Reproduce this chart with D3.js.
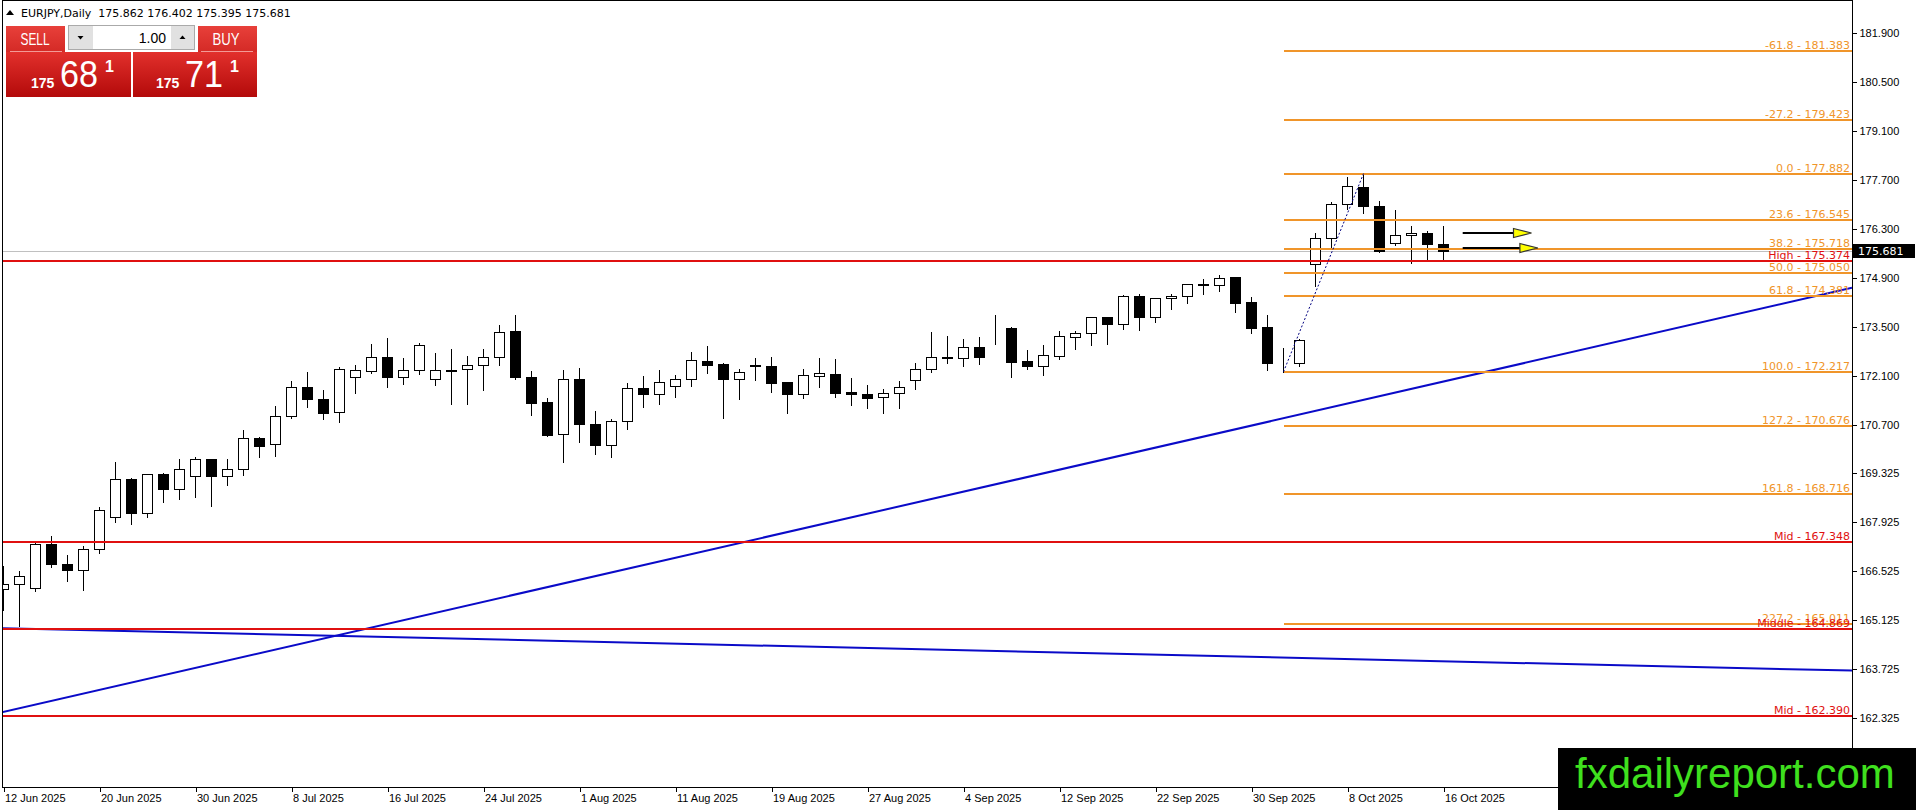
<!DOCTYPE html>
<html lang="en">
<head>
<meta charset="UTF-8">
<title>EURJPY,Daily</title>
<script src="https://cdnjs.cloudflare.com/ajax/libs/d3/7.8.5/d3.min.js"></script>
<style>
  body { margin: 0; background: #fff; }
  svg { display: block; font-family: "DejaVu Sans", sans-serif; }
  .candle, .axis line, .frame { shape-rendering: crispEdges; }
  .axis text { font-size: 11px; fill: #000; }
  .lvl { font-size: 11px; }
</style>
</head>
<body>
<svg width="1916" height="810"></svg>
<script>
// daily bars, weekdays starting from this date
var firstDay = "2025-06-12"
var opens  = [166.01,166.15,166.03,167.29,166.72,166.55,167.15,168.06,169.15,168.18,
              169.29,168.88,169.23,169.72,169.23,169.43,170.32,170.15,170.95,171.78,
              171.43,171.06,172.06,172.25,172.63,172.08,172.26,172.01,172.27,172.29,
              172.41,172.63,173.39,172.08,171.35,170.43,172.01,170.72,170.12,170.81,
              171.75,171.58,171.81,172.01,172.53,172.44,172.02,172.40,172.39,171.93,
              171.57,172.11,172.16,171.63,171.59,171.49,171.61,171.98,172.29,172.62,
              172.62,172.92,173.48,173.46,172.52,172.37,172.68,173.21,173.32,173.78,
              173.58,174.39,173.77,174.33,174.38,174.72,174.69,174.93,174.21,173.49,
              172.46,172.46,175.29,176.03,177.01,177.49,176.96,175.91,176.12,176.18,
              175.862]
var highs  = [166.70,166.56,167.41,167.56,167.01,167.27,168.37,169.67,169.21,169.32,
              169.35,169.76,169.81,169.72,169.76,170.59,170.39,171.27,171.99,172.24,
              171.73,172.39,172.44,173.05,173.22,172.63,173.06,172.78,172.89,172.70,
              172.89,173.59,173.87,172.27,171.49,172.30,172.35,171.13,170.90,171.93,
              172.13,172.30,172.16,172.81,172.99,172.50,172.33,172.64,172.67,171.96,
              172.32,172.64,172.61,172.07,171.86,171.76,171.99,172.50,173.39,173.26,
              173.18,173.23,173.87,173.53,172.86,173.01,173.41,173.41,173.80,173.81,
              174.44,174.46,174.37,174.48,174.76,174.89,175.01,174.96,174.39,173.86,
              172.92,173.19,176.21,177.11,177.81,177.882,177.13,176.86,176.41,176.27,
              176.402]
var lows   = [165.41,164.94,165.94,166.63,166.25,165.97,167.05,167.94,167.86,168.08,
              168.51,168.57,168.65,168.39,168.97,169.26,169.79,169.82,170.91,171.22,
              170.88,170.77,171.62,172.19,171.79,171.88,172.16,171.85,171.30,171.30,
              171.71,172.42,172.02,170.99,170.39,169.65,170.22,169.86,169.78,170.57,
              171.22,171.31,171.51,171.82,172.19,170.91,171.45,171.99,171.65,171.05,
              171.48,171.77,171.51,171.27,171.19,171.05,171.19,171.74,172.22,172.48,
              172.39,172.45,173.02,172.08,172.31,172.14,172.57,172.86,172.97,173.02,
              173.44,173.41,173.65,174.01,174.18,174.44,174.54,173.94,173.34,172.27,
              172.217,172.37,174.67,175.72,176.86,176.75,175.64,175.84,175.32,175.41,
              175.395]
var closes = [166.15,166.39,167.29,166.72,166.56,167.15,168.26,169.15,168.17,169.29,
              168.88,169.43,169.72,169.23,169.43,170.32,170.11,170.95,171.78,171.43,
              171.05,172.29,172.27,172.63,172.08,172.26,172.98,172.26,172.25,172.41,
              172.63,173.35,172.07,171.34,170.41,172.01,170.74,170.14,170.81,171.75,
              171.57,171.92,172.01,172.55,172.42,172.02,172.21,172.39,171.91,171.57,
              172.12,172.18,171.62,171.57,171.48,171.61,171.78,172.30,172.63,172.64,
              172.92,172.65,173.46,172.51,172.37,172.69,173.23,173.32,173.78,173.58,
              174.38,173.77,174.32,174.39,174.72,174.71,174.89,174.19,173.48,172.46,
              172.47,173.12,176.03,177.01,177.52,176.97,175.66,176.12,176.19,175.88,
              175.681]

var dateTicks = ["12 Jun 2025","20 Jun 2025","30 Jun 2025","8 Jul 2025","16 Jul 2025",
                 "24 Jul 2025","1 Aug 2025","11 Aug 2025","19 Aug 2025","27 Aug 2025",
                 "4 Sep 2025","12 Sep 2025","22 Sep 2025","30 Sep 2025","8 Oct 2025","16 Oct 2025"]
var priceTicks = [181.9,180.5,179.1,177.7,176.3,174.9,173.5,172.1,170.7,169.325,167.925,166.525,165.125,163.725,162.325]

// fibonacci drawn from the swing low bar to the swing high bar
var fibLevels = [-61.8,-27.2,0,23.6,38.2,50,61.8,100,127.2,161.8,227.2]
var fibBars   = [80, 85]
var fibPrices = [172.217, 177.882]

var levelNames  = ["High", "Mid", "Middle", "Mid"]
var levelPrices = [175.374, 167.348, 164.869, 162.390]

var trendUp   = [[0, 162.50], [90, 171.94]]
var trendDown = [[0, 164.89], [90, 163.947]]

var arrowStart  = [91.2, 91.2]
var arrowEnd    = [95.5, 95.9]
var arrowPrices = [176.194, 175.766]

var bid = 175.681, ask = 175.711
var header = ["EURJPY,Daily", 175.862, 176.402, 175.395, 175.681]

// ---------------------------------------------------------------
var L = 2, R = 1852, T = 0, B = 787
var svg = d3.select("svg")

var x = d3.scaleLinear().domain([0, 90]).range([3.5, 1443.5])
var y = d3.scaleLinear().domain([162.325, 181.9]).range([718, 33])

var parse = d3.timeParse("%Y-%m-%d"), fmt = d3.timeFormat("%-d %b %Y")
var dates = [], day = parse(firstDay)
while (dates.length < closes.length) {
  if (day.getDay() % 6 !== 0) dates.push(day)
  day = d3.timeDay.offset(day, 1)
}
var bars = closes.map((c, i) => ({ i: i, o: opens[i], h: highs[i], l: lows[i], c: c, date: dates[i] }))

svg.append("clipPath").attr("id", "plot")
  .append("rect").attr("x", L + 1).attr("y", T).attr("width", R - L - 1).attr("height", B - T)

var plot = svg.append("g").attr("clip-path", "url(#plot)")
var py = p => Math.round(y(p)) + 0.5

// bid line
plot.append("line").attr("class", "frame")
  .attr("x1", L).attr("x2", R).attr("y1", py(bid)).attr("y2", py(bid))
  .attr("stroke", "#c0c0c0")

// candles
var cg = plot.append("g").attr("class", "candle")
cg.selectAll(".wick").data(bars).join("line")
  .attr("x1", d => x(d.i)).attr("x2", d => x(d.i))
  .attr("y1", d => py(d.h)).attr("y2", d => py(d.l))
  .attr("stroke", "#000")
cg.selectAll(".body").data(bars).join("rect")
  .attr("x", d => x(d.i) - 5)
  .attr("width", 10)
  .attr("y", d => py(Math.max(d.o, d.c)))
  .attr("height", d => Math.max(0, py(Math.min(d.o, d.c)) - py(Math.max(d.o, d.c))))
  .attr("fill", d => d.c >= d.o ? "#fff" : "#000")
  .attr("stroke", "#000")

// trend lines, extended over the whole plot
function extend(pts) {
  var k = (pts[1][1] - pts[0][1]) / (pts[1][0] - pts[0][0])
  var i0 = x.invert(L), i1 = x.invert(R)
  return [[i0, pts[0][1] + k * (i0 - pts[0][0])], [i1, pts[0][1] + k * (i1 - pts[0][0])]]
}
var lineGen = d3.line().x(d => x(d[0])).y(d => y(d[1]))
;[trendUp, trendDown].forEach(t => {
  plot.append("path").attr("d", lineGen(extend(t)))
    .attr("fill", "none").attr("stroke", "#0a0ac8").attr("stroke-width", 2)
})

// horizontal levels
var red = "#e01010"
levelPrices.forEach((p, k) => {
  plot.append("line").attr("class", "frame")
    .attr("x1", L).attr("x2", R).attr("y1", Math.round(y(p))).attr("y2", Math.round(y(p)))
    .attr("stroke", red).attr("stroke-width", 2)
})

// fibonacci
var fibRange = fibPrices[1] - fibPrices[0]
var fibs = fibLevels.map(l => ({ level: l, price: fibPrices[1] - l / 100 * fibRange }))
var orange = "#f0952a"
plot.selectAll(".fib").data(fibs).join("line").attr("class", "frame")
  .attr("x1", x(fibBars[0])).attr("x2", R)
  .attr("y1", d => Math.round(y(d.price))).attr("y2", d => Math.round(y(d.price)))
  .attr("stroke", orange).attr("stroke-width", 2)
plot.append("line")
  .attr("x1", x(fibBars[0])).attr("y1", y(fibPrices[0]))
  .attr("x2", x(fibBars[1])).attr("y2", y(fibPrices[1]))
  .attr("stroke", "#000080").attr("stroke-dasharray", "2,2")

// level labels
svg.selectAll(".fibtxt").data(fibs).join("text").attr("class", "lvl")
  .attr("x", R - 2).attr("y", d => Math.round(y(d.price)) - 2)
  .attr("text-anchor", "end").attr("fill", orange)
  .text(d => d.level.toFixed(1) + " - " + d.price.toFixed(3))
levelPrices.forEach((p, k) => {
  svg.append("text").attr("class", "lvl")
    .attr("x", R - 2).attr("y", Math.round(y(p)) - 2)
    .attr("text-anchor", "end").attr("fill", red)
    .text(levelNames[k] + " - " + p.toFixed(3))
})

// arrows
arrowPrices.forEach((p, k) => {
  var yy = Math.round(y(p)), xe = x(arrowEnd[k]), xs = x(arrowStart[k])
  plot.append("line").attr("x1", xs).attr("x2", xe - 16).attr("y1", yy).attr("y2", yy)
    .attr("stroke", "#000").attr("stroke-width", 2)
  plot.append("path")
    .attr("d", `M${xe - 18},${yy - 4.5}L${xe},${yy}L${xe - 18},${yy + 4.5}Z`)
    .attr("fill", "#ffff00").attr("stroke", "#333").attr("stroke-width", 1.2)
})

// axes
var yAxis = d3.axisRight(y).tickValues(priceTicks).tickFormat(d3.format(".3f"))
  .tickSize(4).tickPadding(3)
svg.append("g").attr("class", "axis").attr("transform", `translate(${R + 0.5},0)`)
  .call(yAxis).call(g => g.select(".domain").remove())

var tickIdx = dateTicks.map(s => bars.findIndex(b => fmt(b.date) === s))
var xAxis = d3.axisBottom(x).tickValues(tickIdx).tickFormat(i => fmt(dates[i]))
  .tickSize(4).tickPadding(3)
svg.append("g").attr("class", "axis").attr("transform", `translate(0,${B + 0.5})`)
  .call(xAxis).call(g => g.select(".domain").remove())
  .selectAll("text").attr("text-anchor", "start").attr("x", 1)

// frame
var fr = svg.append("g").attr("class", "frame").attr("stroke", "#000")
fr.append("line").attr("x1", L + 0.5).attr("x2", L + 0.5).attr("y1", T).attr("y2", B + 1)
fr.append("line").attr("x1", L).attr("x2", R + 1).attr("y1", B + 0.5).attr("y2", B + 0.5)
fr.append("line").attr("x1", R + 0.5).attr("x2", R + 0.5).attr("y1", T).attr("y2", B + 1)
fr.append("line").attr("x1", L).attr("x2", R + 1).attr("y1", T + 0.5).attr("y2", T + 0.5)

// current price tag
svg.append("rect").attr("x", R + 1).attr("y", Math.round(y(bid)) - 7)
  .attr("width", 62).attr("height", 14).attr("fill", "#000")
svg.append("text").attr("x", R + 6).attr("y", Math.round(y(bid)) + 4)
  .attr("fill", "#fff").attr("font-size", 11).text(bid.toFixed(3))

// header
svg.append("path").attr("d", "M6,15L10,10L14,15Z").attr("fill", "#000")
svg.append("text").attr("x", 21).attr("y", 17).attr("font-size", 11)
  .style("white-space", "pre")
  .text(header[0] + "  " + header.slice(1).map(v => v.toFixed(3)).join(" "))

// one-click trading panel
var defs = svg.append("defs")
var gr = defs.append("linearGradient").attr("id", "redg").attr("x1", 0).attr("x2", 0).attr("y1", 0).attr("y2", 1)
gr.append("stop").attr("offset", 0).attr("stop-color", "#e2302c")
gr.append("stop").attr("offset", 1).attr("stop-color", "#b30a0a")
var gr2 = defs.append("linearGradient").attr("id", "redt").attr("x1", 0).attr("x2", 0).attr("y1", 0).attr("y2", 1)
gr2.append("stop").attr("offset", 0).attr("stop-color", "#e8403a")
gr2.append("stop").attr("offset", 1).attr("stop-color", "#d42a26")

var panel = svg.append("g").style("font-family", "'Liberation Sans', sans-serif")
panel.append("rect").attr("x", 6).attr("y", 26).attr("width", 59).attr("height", 26).attr("fill", "url(#redt)")
panel.append("rect").attr("x", 198).attr("y", 26).attr("width", 59).attr("height", 26).attr("fill", "url(#redt)")
panel.append("rect").attr("x", 6).attr("y", 52).attr("width", 125).attr("height", 45).attr("fill", "url(#redg)")
panel.append("rect").attr("x", 133).attr("y", 52).attr("width", 124).attr("height", 45).attr("fill", "url(#redg)")
panel.append("line").attr("x1", 10).attr("x2", 62).attr("y1", 51.5).attr("y2", 51.5).attr("stroke", "#f39a96")
panel.append("line").attr("x1", 201).attr("x2", 253).attr("y1", 51.5).attr("y2", 51.5).attr("stroke", "#f39a96")
panel.append("text").attr("x", 35).attr("y", 45).attr("text-anchor", "middle").attr("fill", "#fff")
  .attr("font-size", 17).attr("textLength", 29).attr("lengthAdjust", "spacingAndGlyphs").text("SELL")
panel.append("text").attr("x", 226).attr("y", 45).attr("text-anchor", "middle").attr("fill", "#fff")
  .attr("font-size", 17).attr("textLength", 27).attr("lengthAdjust", "spacingAndGlyphs").text("BUY")

panel.append("rect").attr("x", 68.5).attr("y", 25.5).attr("width", 126).attr("height", 24)
  .attr("fill", "#fff").attr("stroke", "#aaa")
panel.append("rect").attr("x", 69).attr("y", 26).attr("width", 24).attr("height", 23).attr("fill", "#e1e1e1")
panel.append("rect").attr("x", 171).attr("y", 26).attr("width", 23).attr("height", 23).attr("fill", "#e1e1e1")
panel.append("path").attr("d", "M77.5,36L83.5,36L80.5,39.5Z").attr("fill", "#000")
panel.append("path").attr("d", "M179.5,39L185.5,39L182.5,35.5Z").attr("fill", "#000")
panel.append("text").attr("x", 166).attr("y", 43).attr("text-anchor", "end")
  .attr("font-size", 14).attr("fill", "#000").text("1.00")

function quote(price, x0) {
  var s = price.toFixed(3)
  var big = s.slice(0, 3), mid = s.slice(4, 6), pip = s.slice(6)
  panel.append("text").attr("x", x0).attr("y", 88).attr("fill", "#fff")
    .attr("font-size", 14).attr("font-weight", "bold").text(big)
  panel.append("text").attr("x", x0 + 29).attr("y", 87).attr("fill", "#fff")
    .attr("font-size", 37).attr("textLength", 38).attr("lengthAdjust", "spacingAndGlyphs").text(mid)
  panel.append("text").attr("x", x0 + 74).attr("y", 72).attr("fill", "#fff")
    .attr("font-size", 16).attr("font-weight", "bold").text(pip)
}
quote(bid, 31)
quote(ask, 156)

// watermark
svg.append("rect").attr("x", 1558).attr("y", 748).attr("width", 358).attr("height", 62).attr("fill", "#000")
svg.append("text").attr("x", 1575).attr("y", 788)
  .style("font-family", "'Liberation Sans', Arial, sans-serif")
  .attr("font-size", 42).attr("fill", "#3fe01e").text("fxdailyreport.com")
</script>
</body>
</html>
